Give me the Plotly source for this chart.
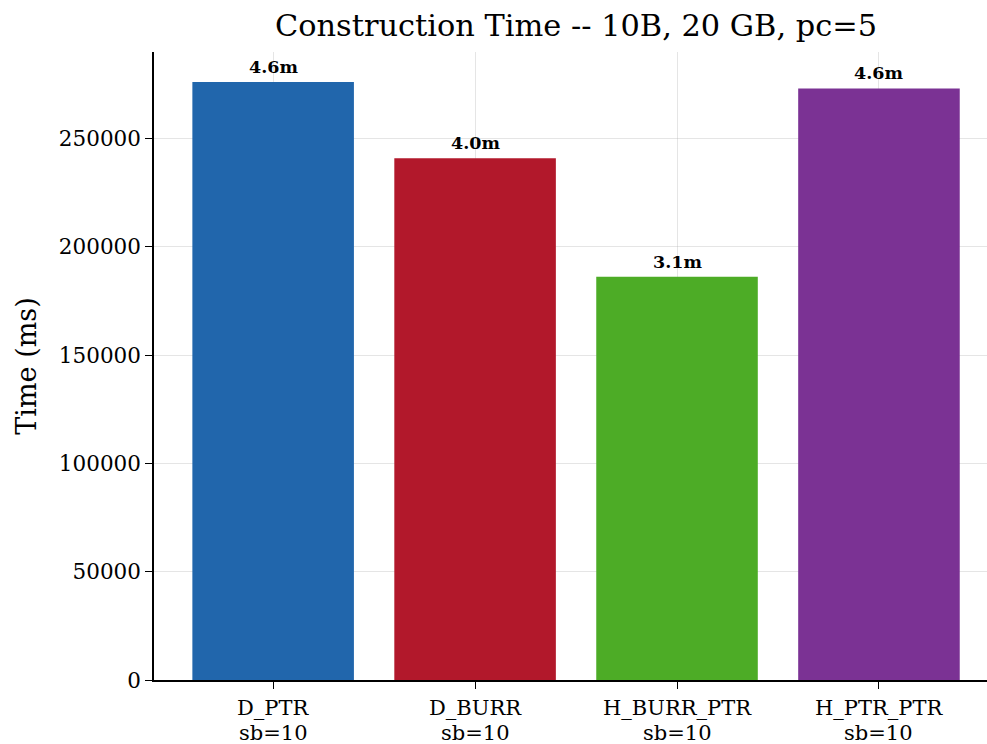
import plotly.graph_objects as go

# Construction time per index variant (milliseconds)
variants = ["D_PTR", "D_BURR", "H_BURR_PTR", "H_PTR_PTR"]
sb_labels = ["sb=10", "sb=10", "sb=10", "sb=10"]
times_ms = [276200, 240900, 186200, 273200]
colors = ["#2166ac", "#b2182b", "#4dac26", "#7b3294"]

y_ticks = [0, 50000, 100000, 150000, 200000, 250000]

font = "DejaVu Serif"
positions = list(range(len(variants)))
labels = [f"{t / 60000:.1f}m" for t in times_ms]

fig = go.Figure(
    go.Bar(
        x=positions,
        y=times_ms,
        width=0.8,
        marker=dict(color=colors, line=dict(width=0)),
        hoverinfo="skip",
    )
)

# value labels above each bar
for x, y, lab in zip(positions, times_ms, labels):
    fig.add_annotation(
        x=x, y=y, text=f"<b>{lab}</b>", showarrow=False,
        yanchor="bottom", yshift=3,
        font=dict(family=font, size=17.5, color="black"),
    )

# two-line category labels under the x axis
for x, name, sb in zip(positions, variants, sb_labels):
    for line, shift in ((name, -28), (sb, -53)):
        fig.add_annotation(
            x=x, xref="x", y=0, yref="paper", text=line, showarrow=False,
            yanchor="middle", yshift=shift,
            font=dict(family=font, size=21, color="black"),
        )

grid_col = "rgba(170,170,170,0.3)"

fig.update_layout(
    width=987, height=744,
    margin=dict(l=154, r=0, t=52, b=64),
    paper_bgcolor="white", plot_bgcolor="white",
    font=dict(family=font, color="black"),
    showlegend=False,
    title=dict(
        text="Construction Time -- 10B, 20 GB, pc=5",
        x=0.5836, xanchor="center", y=0.966, yanchor="middle",
        font=dict(family=font, size=30.4, color="black"),
    ),
    xaxis=dict(
        range=[-0.59, 3.535],
        tickvals=positions,
        showticklabels=False,
        showline=True, linecolor="black", linewidth=1.5,
        ticks="outside", ticklen=7, tickwidth=1.2, tickcolor="black",
        showgrid=True, gridcolor=grid_col, gridwidth=1,
        layer="above traces", zeroline=False, automargin=False,
    ),
    yaxis=dict(
        range=[0, 290000],
        tickvals=y_ticks,
        ticktext=[str(v) for v in y_ticks],
        tickfont=dict(family=font, size=21.5, color="black"),
        title=dict(text="Time (ms)", font=dict(family=font, size=27, color="black"), standoff=14),
        showline=True, linecolor="black", linewidth=1.5,
        ticks="outside", ticklen=7, tickwidth=1.2, tickcolor="black",
        showgrid=True, gridcolor=grid_col, gridwidth=1,
        layer="above traces", zeroline=False, automargin=False,
    ),
)

fig.write_html("out.html")
